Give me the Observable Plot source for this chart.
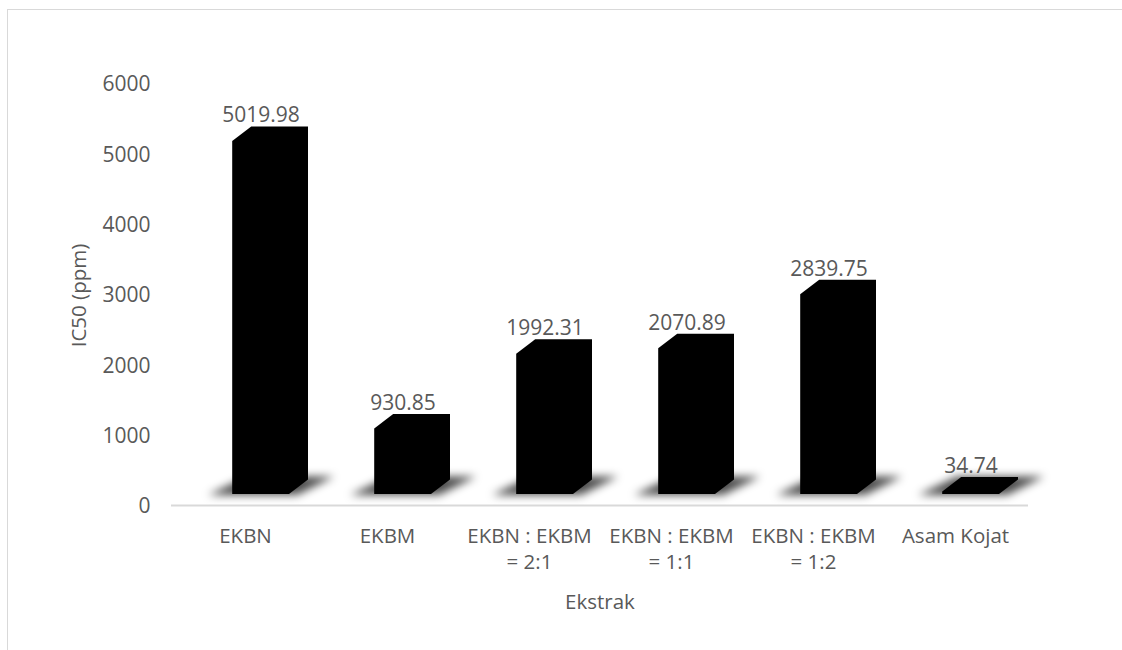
<!DOCTYPE html>
<html>
<head>
<meta charset="utf-8">
<script src="https://cdn.jsdelivr.net/npm/d3@7"></script>
<script src="https://cdn.jsdelivr.net/npm/@observablehq/plot@0.6"></script>
<style>
  html, body { margin: 0; padding: 0; background: #fff; overflow: hidden; }
  #chart { position: relative; width: 1122px; height: 650px; }
  #chart svg { position: absolute; left: 0; top: 0; }
  #frame { position: absolute; left: 7px; top: 9px; width: 1200px; height: 700px;
           border: 1px solid #d9d9d9; box-sizing: border-box; pointer-events: none; }
</style>
</head>
<body>
<div id="chart"><div id="frame"></div></div>
<script>
// IC50 of each extract (ppm)
const categories = [
  "EKBN",
  "EKBM",
  "EKBN : EKBM\n= 2:1",
  "EKBN : EKBM\n= 1:1",
  "EKBN : EKBM\n= 1:2",
  "Asam Kojat"
];
const ic50 = [5019.98, 930.85, 1992.31, 2070.89, 2839.75, 34.74];
const yTicks = [0, 1000, 2000, 3000, 4000, 5000, 6000];
const xTitle = "Ekstrak";
const yTitle = "IC50 (ppm)";

const rows = categories.map((category, i) => ({category, value: ic50[i]}));

const FONT = "'Open Sans', 'Noto Sans', sans-serif";
const INK = "#595959";
const FACE_DX = 15.6;        // front face sits right of the band centre
const FACE_FRAC = 0.4;       // front face width as a share of the band step
const FLOOR_DY = -12;        // floor of the 3-D box sits above the value axis
const DEPTH = [19, -14.5];   // receding edge of each column

// 3-D columns with a soft floor shadow, positioned by the plot's x and y scales
function columns3d(index, scales) {
  const {x, y} = scales;
  const raw = x.bandwidth;
  const bwScale = (typeof raw === "function" ? raw.call(x) : +raw) || 0;
  const center = c => x(c) + bwScale / 2;
  const step = center(categories[1]) - center(categories[0]);
  const fw = step * FACE_FRAC;
  const [ddx, ddy] = DEPTH;
  const g = d3.create("svg:g");
  g.append("defs").append("filter")
      .attr("id", "floor-blur")
      .attr("x", "-50%").attr("y", "-100%")
      .attr("width", "200%").attr("height", "300%")
    .append("feGaussianBlur").attr("stdDeviation", 4);

  const shadow = g.append("g").attr("filter", "url(#floor-blur)");
  const solid = g.append("g");
  for (const d of rows) {
    const x0 = center(d.category) + FACE_DX - fw / 2;
    const x1 = x0 + fw;
    const yb = y(0) + FLOOR_DY;
    const yt = y(d.value) + FLOOR_DY;
    shadow.append("path")
      .attr("d", `M${x0 - 24},${yb + 1}L${x1 + 8},${yb + 1}L${x1 + ddx + 26},${yb + ddy - 3}L${x0 + ddx - 4},${yb + ddy - 3}Z`)
      .attr("fill", "#000")
      .attr("fill-opacity", 0.7);
    solid.append("path")
      .attr("d", `M${x0},${yb}L${x1},${yb}L${x1 + ddx},${yb + ddy}L${x1 + ddx},${yt + ddy}L${x0 + ddx},${yt + ddy}L${x0},${yt}Z`)
      .attr("fill", "#000");
  }
  return g.node();
}

const chart = Plot.plot({
  width: 1122,
  height: 650,
  marginLeft: 171,
  marginRight: 94,
  marginTop: 84,
  marginBottom: 144,
  style: {fontFamily: FONT, fontSize: "20px", color: INK, background: "transparent"},
  x: {domain: categories, paddingInner: 0.6, paddingOuter: 0.3, axis: null},
  y: {domain: [0, 6000]},
  marks: [
    Plot.ruleY([0], {stroke: "#d9d9d9", strokeWidth: 2, dy: -1}),
    Plot.axisY(yTicks, {tickSize: 0, tickPadding: 21, tickFormat: d3.format("d"), label: null, fontSize: 21, fill: INK}),
    columns3d,
    Plot.text(rows, {x: "category", y: "value", text: d => d.value.toFixed(2), dx: FACE_DX, dy: -38, fontSize: 21, fill: INK}),
    Plot.text(categories, {x: d => d, frameAnchor: "bottom", lineAnchor: "top", lineHeight: 1.28, dy: 18, fontSize: 20.5, fill: INK}),
    Plot.text([xTitle], {frameAnchor: "bottom", dy: 102, fontSize: 20.5, fill: INK}),
    Plot.text([yTitle], {frameAnchor: "left", textAnchor: "middle", dx: -92, rotate: -90, fontSize: 20.5, fill: INK})
  ]
});

document.getElementById("chart").prepend(chart);
</script>
</body>
</html>
